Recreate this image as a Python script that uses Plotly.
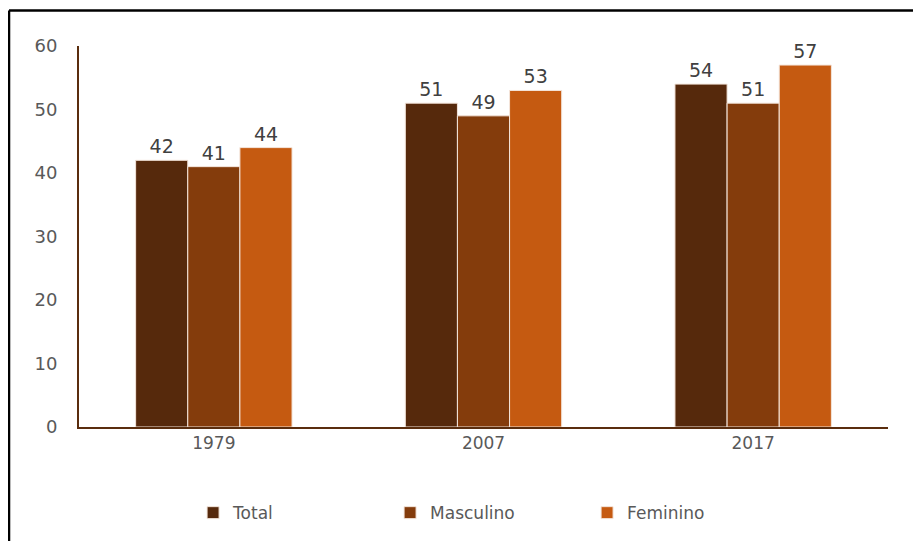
import plotly.graph_objects as go

# datos
anios = ["1979", "2007", "2017"]
total = [42, 51, 54]
masculino = [41, 49, 51]
femenino = [44, 53, 57]

series = [
    ("Total", total, "#56290C"),
    ("Masculino", masculino, "#843C0C"),
    ("Feminino", femenino, "#C55A11"),
]

FONT = "DejaVu Sans"

fig = go.Figure()
for nombre, valores, color in series:
    fig.add_trace(go.Bar(
        x=anios, y=valores, name=nombre,
        marker=dict(color=color, line=dict(color="#F4E6DC", width=1)),
        text=valores, textposition="outside", cliponaxis=False,
        textfont=dict(family=FONT, size=19, color="#404040"),
    ))

# la página tiene un margen de 8px en el body
fig.update_layout(
    width=913, height=533,
    paper_bgcolor="white", plot_bgcolor="white",
    margin=dict(l=71, r=33, t=38, b=114, autoexpand=False),
    barmode="group", bargap=0.42, bargroupgap=0,
    showlegend=True,
    legend=dict(
        orientation="h", x=0.141, xanchor="left", y=-0.226, yanchor="middle",
        entrywidth=152, itemwidth=30,
        font=dict(family=FONT, size=17, color="#595959"),
    ),
    font=dict(family=FONT, color="#595959"),
)

fig.update_xaxes(
    showline=True, linecolor="#5A2D0E", linewidth=2,
    ticks="", tickfont=dict(family=FONT, size=17, color="#595959"),
    showgrid=False,
)
fig.update_yaxes(
    range=[0, 60], dtick=10, showgrid=False, zeroline=False,
    showline=True, linecolor="#5A2D0E", linewidth=2,
    ticks="", ticklabelstandoff=16,
    tickfont=dict(family=FONT, size=18, color="#595959"),
)

# marco del gráfico (línea superior e izquierda)
fig.add_shape(type="line", xref="paper", yref="paper",
              x0=-0.0865, x1=1.05, y0=1.093, y1=1.093,
              line=dict(color="black", width=2.5))
fig.add_shape(type="line", xref="paper", yref="paper",
              x0=-0.0865, x1=-0.0865, y0=1.093, y1=-0.4,
              line=dict(color="black", width=2.5))

fig.write_html("out.html")
